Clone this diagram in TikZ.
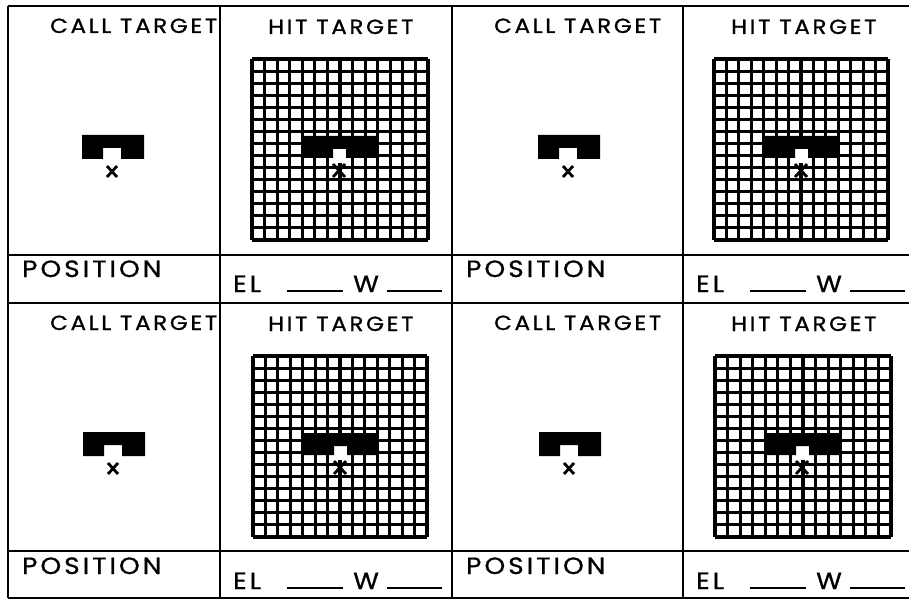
\documentclass[tikz,border=0pt]{standalone}
\usepackage{fontspec}
\newfontfamily\formfont[LetterSpace=13,FakeBold=0.9,FakeStretch=1.12]{Poppins}
\usetikzlibrary{positioning}

\begin{document}
\begin{tikzpicture}[
  x=1pt,y=-1pt,
  rule/.style={line width=1.8pt},
  gridline/.style={line width=3.1pt},
  blank/.style={line width=1.9pt},
  blot/.style={fill=black},
  clear/.style={fill=white},
  hitmark/.style={line width=2.8pt},
  head/.style={font=\formfont\fontsize{20.5}{20.5}\selectfont,
               inner sep=0pt,anchor=base west},
  entry/.style={font=\formfont\fontsize{23.5}{23.5}\selectfont,
                inner sep=0pt,anchor=base west},
]
\useasboundingbox (0,0) rectangle (909,601);

% ---- frame of the form: two rows of two panels ----
\foreach \xx in {8,220,452,683}
  \draw[rule] (\xx,6) -- (\xx,598);
\foreach \yy in {6,255,303,551,598}
  \draw[rule] (8,\yy) -- (909,\yy);

% ---- each panel: call target, hit target grid, position strip ----
% cx/hx = column lefts, dy = row shift, bx = call bar left, gx/gw = grid
\foreach \n/\cx/\hx/\dy/\bx/\gx/\gw in {1/8/220/0/82/252/176,
                                       2/452/683/0/538/714/174,
                                       3/8/220/297/83/253/174,
                                       4/452/683/297/539/715/176}{
  \begin{scope}[yshift=-\dy pt]
    % headings
    \node[head] (call-\n) at (\cx+42,33) {CALL TARGET};
    \node[head] (hit-\n)  at (\hx+48,34) {HIT TARGET};
    % call target: notched bar and the aim mark
    \fill[blot] (\bx,135) -- (\bx+62,135) -- (\bx+62,159) -- (\bx+39,159)
      -- (\bx+39,148) -- (\bx+21,148) -- (\bx+21,159) -- (\bx,159) -- cycle;
    \draw[hitmark] (\bx+25,166) -- (\bx+35,177) (\bx+35,166) -- (\bx+25,177);
    % hit target: 14 x 15 grid
    \foreach \i in {0,...,14}
      \draw[gridline] (\gx+\i*\gw/14,59) -- (\gx+\i*\gw/14,240);
    \foreach \j in {0,...,15}
      \draw[gridline] (\gx,59+\j*181/15) -- (\gx+\gw,59+\j*181/15);
    \fill[clear] (\gx+81,147) rectangle (\gx+94,163);
    \fill[blot] (\gx+50,136) -- (\gx+125,136) -- (\gx+125,158) -- (\gx+94,158)
      -- (\gx+94,149) -- (\gx+81,149) -- (\gx+81,158) -- (\gx+50,158) -- cycle;
    \draw[hitmark] (\gx+81,164) -- (\gx+93,177) (\gx+93,164) -- (\gx+81,177);
    % strip below: position, then elevation and windage blanks
    \node[entry] (pos-\n) at (\cx+14,277) {POSITION};
    \node[entry] (el-\n) at (\hx+13,292) {EL};
    \node[entry] (w-\n)  at (\hx+133,292) {W};
    \draw[blank] (\hx+67,291) -- (\hx+123,291);
    \draw[blank] (\hx+167,291) -- (\hx+222,291);
  \end{scope}
}
\end{tikzpicture}
\end{document}
